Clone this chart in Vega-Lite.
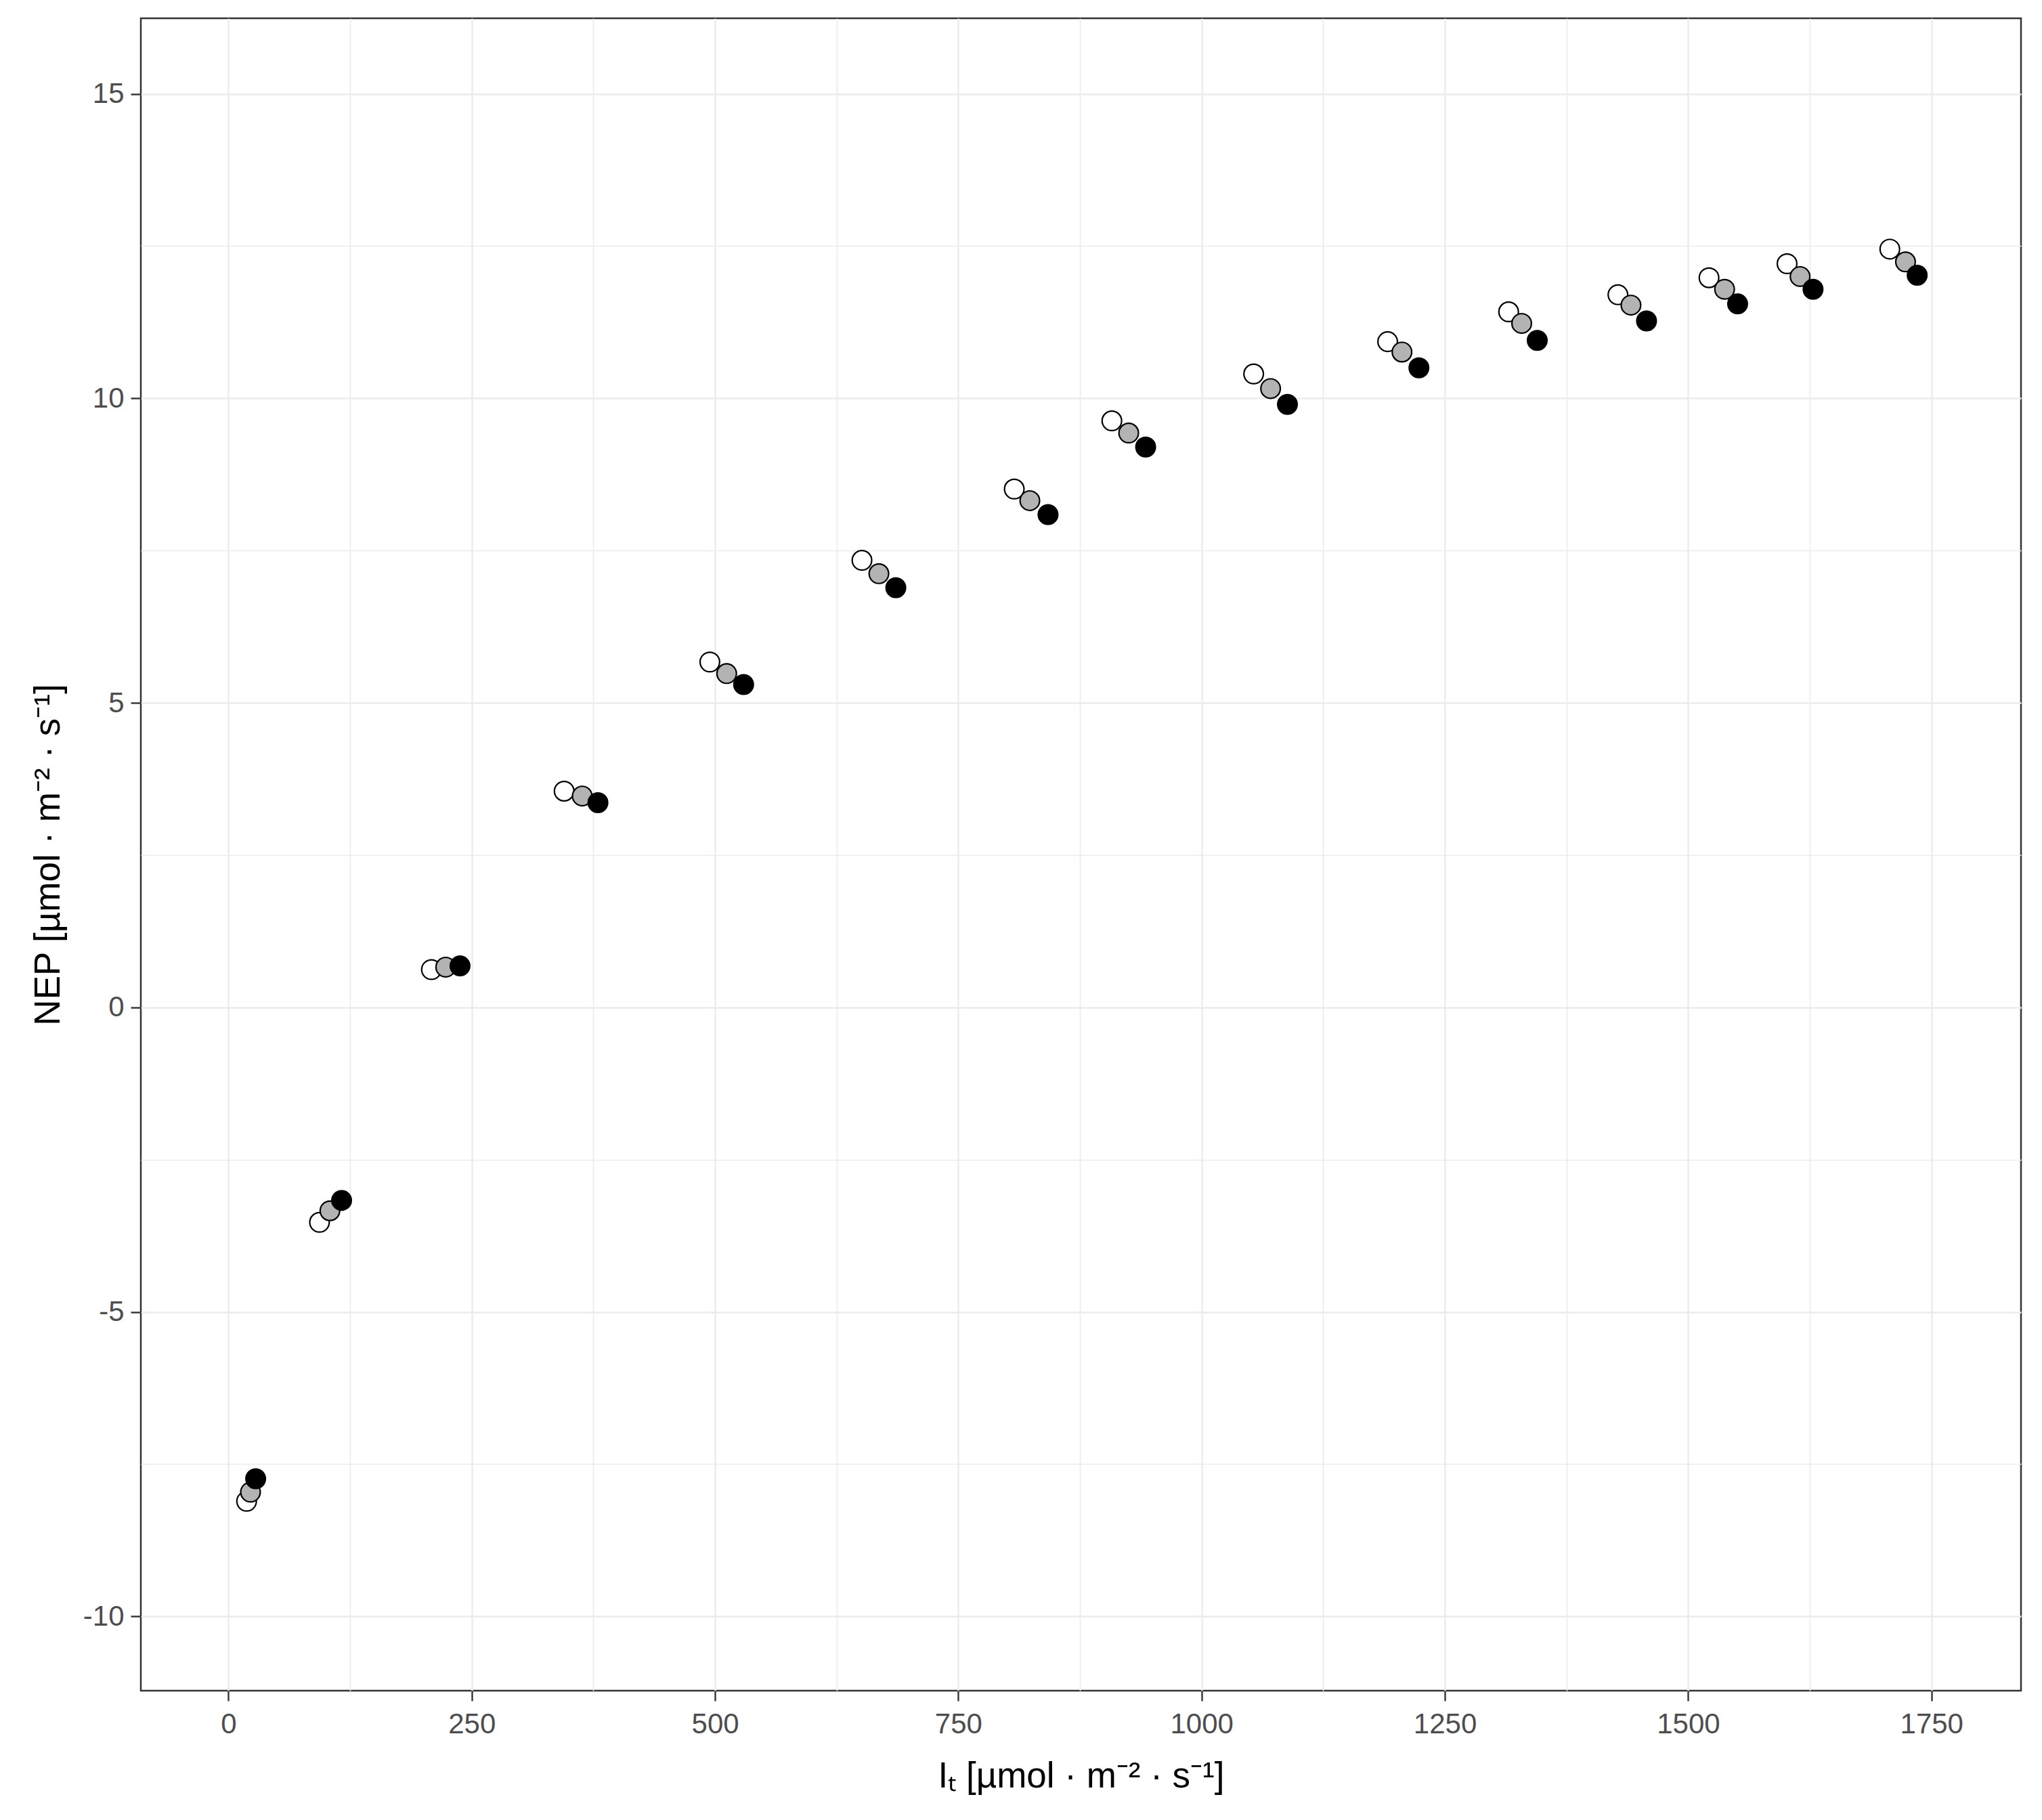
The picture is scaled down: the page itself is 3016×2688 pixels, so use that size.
{
  "$schema": "https://vega.github.io/schema/vega-lite/v6.json",
  "autosize": "none",
  "width": 2777,
  "height": 2470,
  "padding": {"left": 208, "top": 27, "right": 31, "bottom": 191},
  "background": "white",
  "config": {
    "view": {"stroke": "#333333", "strokeWidth": 2.5},
    "font": "Liberation Sans"
  },
  "data": {
    "values": [
      {"I": 18.7, "NEP": -8.11, "g": "a"},
      {"I": 22.7, "NEP": -7.96, "g": "b"},
      {"I": 28.0, "NEP": -7.74, "g": "c"},
      {"I": 93.6, "NEP": -3.53, "g": "a"},
      {"I": 104.3, "NEP": -3.34, "g": "b"},
      {"I": 116.3, "NEP": -3.17, "g": "c"},
      {"I": 208.6, "NEP": 0.62, "g": "a"},
      {"I": 223.3, "NEP": 0.66, "g": "b"},
      {"I": 238.0, "NEP": 0.68, "g": "c"},
      {"I": 345.0, "NEP": 3.55, "g": "a"},
      {"I": 363.6, "NEP": 3.47, "g": "b"},
      {"I": 379.7, "NEP": 3.36, "g": "c"},
      {"I": 494.7, "NEP": 5.67, "g": "a"},
      {"I": 512.0, "NEP": 5.48, "g": "b"},
      {"I": 529.4, "NEP": 5.30, "g": "c"},
      {"I": 651.0, "NEP": 7.34, "g": "a"},
      {"I": 668.4, "NEP": 7.12, "g": "b"},
      {"I": 685.8, "NEP": 6.89, "g": "c"},
      {"I": 807.5, "NEP": 8.51, "g": "a"},
      {"I": 823.5, "NEP": 8.32, "g": "b"},
      {"I": 842.2, "NEP": 8.09, "g": "c"},
      {"I": 907.8, "NEP": 9.63, "g": "a"},
      {"I": 925.1, "NEP": 9.43, "g": "b"},
      {"I": 942.5, "NEP": 9.20, "g": "c"},
      {"I": 1053.5, "NEP": 10.40, "g": "a"},
      {"I": 1070.9, "NEP": 10.16, "g": "b"},
      {"I": 1088.2, "NEP": 9.90, "g": "c"},
      {"I": 1191.2, "NEP": 10.93, "g": "a"},
      {"I": 1205.9, "NEP": 10.76, "g": "b"},
      {"I": 1223.3, "NEP": 10.50, "g": "c"},
      {"I": 1315.5, "NEP": 11.42, "g": "a"},
      {"I": 1328.9, "NEP": 11.23, "g": "b"},
      {"I": 1344.9, "NEP": 10.95, "g": "c"},
      {"I": 1427.8, "NEP": 11.70, "g": "a"},
      {"I": 1441.2, "NEP": 11.53, "g": "b"},
      {"I": 1457.2, "NEP": 11.27, "g": "c"},
      {"I": 1521.4, "NEP": 11.98, "g": "a"},
      {"I": 1537.4, "NEP": 11.79, "g": "b"},
      {"I": 1550.8, "NEP": 11.55, "g": "c"},
      {"I": 1601.6, "NEP": 12.21, "g": "a"},
      {"I": 1615.0, "NEP": 12.00, "g": "b"},
      {"I": 1628.3, "NEP": 11.79, "g": "c"},
      {"I": 1707.2, "NEP": 12.45, "g": "a"},
      {"I": 1723.3, "NEP": 12.24, "g": "b"},
      {"I": 1735.3, "NEP": 12.02, "g": "c"}
    ]
  },
  "mark": {"type": "point", "shape": "circle", "filled": true, "size": 830, "stroke": "black", "strokeWidth": 2.2, "opacity": 1},
  "encoding": {
    "x": {
      "field": "I", "type": "quantitative",
      "scale": {"domain": [-90, 1842], "nice": false, "zero": false},
      "axis": {
        "values": [0, 125, 250, 375, 500, 625, 750, 875, 1000, 1125, 1250, 1375, 1500, 1625, 1750],
        "labelExpr": "datum.value % 250 === 0 ? '' + datum.value : ''",
        "domain": false,
        "grid": true,
        "gridColor": "#ebebeb",
        "gridWidth": {"condition": {"test": "datum.value % 250 === 0", "value": 2.4}, "value": 1.6},
        "tickColor": "#333333",
        "tickOpacity": {"condition": {"test": "datum.value % 250 === 0", "value": 1}, "value": 0},
        "tickSize": 15,
        "tickWidth": 2.4,
        "labelFont": "Liberation Sans",
        "labelFontSize": 42,
        "labelColor": "#4d4d4d",
        "labelPadding": 14,
        "labelFlush": false,
        "labelOverlap": false,
        "title": "Iₜ [µmol · m⁻² · s⁻¹]",
        "titleFont": "Liberation Sans",
        "titleFontSize": 53,
        "titleFontWeight": "normal",
        "titleColor": "black",
        "titleBaseline": "alphabetic",
        "titleY": 142
      }
    },
    "y": {
      "field": "NEP", "type": "quantitative",
      "scale": {"domain": [-11.22, 16.24], "nice": false, "zero": false},
      "axis": {
        "values": [-10, -7.5, -5, -2.5, 0, 2.5, 5, 7.5, 10, 12.5, 15],
        "labelExpr": "datum.value % 5 === 0 ? '' + datum.value : ''",
        "domain": false,
        "grid": true,
        "gridColor": "#ebebeb",
        "gridWidth": {"condition": {"test": "datum.value % 5 === 0", "value": 2.4}, "value": 1.6},
        "tickColor": "#333333",
        "tickOpacity": {"condition": {"test": "datum.value % 5 === 0", "value": 1}, "value": 0},
        "tickSize": 15,
        "tickWidth": 2.4,
        "labelFont": "Liberation Sans",
        "labelFontSize": 42,
        "labelColor": "#4d4d4d",
        "labelPadding": 10,
        "labelFlush": false,
        "labelOverlap": false,
        "title": "NEP [µmol · m⁻² · s⁻¹]",
        "titleFont": "Liberation Sans",
        "titleFontSize": 53,
        "titleFontWeight": "normal",
        "titleColor": "black",
        "titleBaseline": "alphabetic",
        "titleX": -121
      }
    },
    "fill": {
      "field": "g", "type": "nominal",
      "scale": {"domain": ["a", "b", "c"], "range": ["#ffffff", "#b3b3b3", "#000000"]},
      "legend": null
    }
  }
}
